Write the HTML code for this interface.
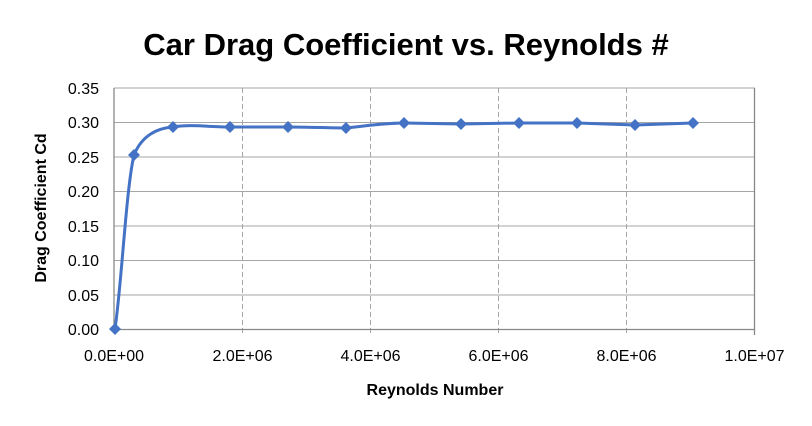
<!DOCTYPE html>
<html><head><style>body{margin:0;background:#fff}svg{display:block}text{font-family:"Liberation Sans",Arial,sans-serif;fill:#000}</style></head><body>
<svg width="812" height="426" viewBox="0 0 812 426">
<rect width="812" height="426" fill="#fff"/>
<text x="406" y="55" text-anchor="middle" font-size="31" font-weight="bold">Car Drag Coefficient vs. Reynolds #</text>
<g stroke="#a6a6a6" stroke-width="1">
<line x1="114" y1="88" x2="755" y2="88"/>
<line x1="114" y1="122.5" x2="755" y2="122.5"/>
<line x1="114" y1="157" x2="755" y2="157"/>
<line x1="114" y1="191.5" x2="755" y2="191.5"/>
<line x1="114" y1="226" x2="755" y2="226"/>
<line x1="114" y1="260.5" x2="755" y2="260.5"/>
<line x1="114" y1="295" x2="755" y2="295"/>
</g>
<g stroke="#a6a6a6" stroke-width="1" stroke-dasharray="5,3">
<line x1="242.5" y1="88" x2="242.5" y2="335"/>
<line x1="370.5" y1="88" x2="370.5" y2="335"/>
<line x1="498.5" y1="88" x2="498.5" y2="335"/>
<line x1="626.5" y1="88" x2="626.5" y2="335"/>
</g>
<g stroke="#888" stroke-width="1.3" fill="none">
<line x1="114" y1="88" x2="114" y2="329.5"/>
<line x1="754.5" y1="88" x2="754.5" y2="335"/>
<line x1="114" y1="329.5" x2="755" y2="329.5"/>
</g>
<g font-size="16" text-anchor="end">
<text x="99" y="94">0.35</text><text x="99" y="128">0.30</text><text x="99" y="163">0.25</text><text x="99" y="197">0.20</text><text x="99" y="232">0.15</text><text x="99" y="266">0.10</text><text x="99" y="301">0.05</text><text x="99" y="335">0.00</text>
</g>
<g font-size="16" text-anchor="middle">
<text x="114" y="361">0.0E+00</text><text x="242.5" y="361">2.0E+06</text><text x="370.5" y="361">4.0E+06</text><text x="498.5" y="361">6.0E+06</text><text x="626.5" y="361">8.0E+06</text><text x="754.5" y="361">1.0E+07</text>
</g>
<text x="435" y="395" text-anchor="middle" font-size="16" font-weight="bold">Reynolds Number</text>
<text transform="translate(46,208) rotate(-90)" text-anchor="middle" font-size="16" font-weight="bold">Drag Coefficient Cd</text>
<path d="M115,329 C122,280 126,190 134,155 C142,135 158,128 173,127 C190,124 210,127 230,127 L288,127 C310,127 330,128 346,128 C365,126 385,123 404,123 L461,124 L519,123 L577,123 L635,125 L693,123" fill="none" stroke="#4472c4" stroke-width="3" stroke-linejoin="round"/>
<g fill="#4472c4">
<path d="M115,323l6,6l-6,6l-6,-6z"/>
<path d="M134,149l6,6l-6,6l-6,-6z"/>
<path d="M173,121l6,6l-6,6l-6,-6z"/>
<path d="M230,121l6,6l-6,6l-6,-6z"/>
<path d="M288,121l6,6l-6,6l-6,-6z"/>
<path d="M346,122l6,6l-6,6l-6,-6z"/>
<path d="M404,117l6,6l-6,6l-6,-6z"/>
<path d="M461,118l6,6l-6,6l-6,-6z"/>
<path d="M519,117l6,6l-6,6l-6,-6z"/>
<path d="M577,117l6,6l-6,6l-6,-6z"/>
<path d="M635,119l6,6l-6,6l-6,-6z"/>
<path d="M693,117l6,6l-6,6l-6,-6z"/>
</g>
</svg>
</body></html>
